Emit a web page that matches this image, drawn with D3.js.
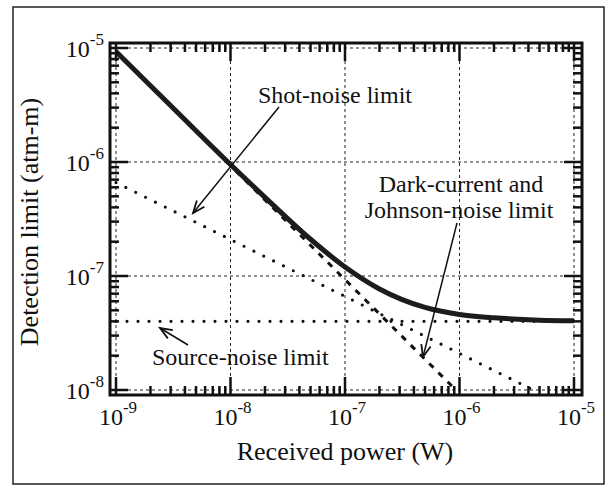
<!DOCTYPE html>
<html><head><meta charset="utf-8">
<script src="https://cdn.jsdelivr.net/npm/d3@7"></script>
<style>body{margin:0;background:#fff}svg{display:block}text{font-family:"Liberation Serif","Times New Roman",serif;fill:#111}</style>
</head><body><svg id="c" width="610" height="495"></svg>
<script>
// ---- data ----
const xTickValues = [1e-9, 1e-8, 1e-7, 1e-6, 1e-5];
const xTickExps = ["-9", "-8", "-7", "-6", "-5"];
const yTickValues = [1e-8, 1e-7, 1e-6, 1e-5];
const yTickExps = ["-8", "-7", "-6", "-5"];
const power = [1e-9, 2e-9, 5e-9, 1e-8, 2e-8, 5e-8, 1e-7, 2e-7, 5e-7, 1e-6, 2e-6, 5e-6, 1e-5];
const totalLimit = [9.3e-6, 4.67e-6, 1.88e-6, 9.5e-7, 4.9e-7, 2.1e-7, 1.2e-7, 7.7e-8, 5.3e-8, 4.6e-8, 4.3e-8, 4.1e-8, 4.05e-8];
const shotPower = [1e-9, 4.4e-6];
const shotLimit = [6.6e-7, 1e-8];
const darkPower = [1e-9, 9.3e-7];
const darkLimit = [9.3e-6, 1e-8];
const sourcePower = [1e-9, 1e-5];
const sourceLimit = [4e-8, 4e-8];
const xTitle = "Received power (W)";
const yTitle = "Detection limit (atm-m)";

const svg = d3.select("#c");
const x = d3.scaleLog().domain([1e-9, 1e-5]).range([116, 574]);
const y = d3.scaleLog().domain([1e-8, 1e-5]).range([390, 48]);
const box = {l: 110, t: 43, r: 582, b: 395};

// outer border
svg.append("rect").attr("x", 13).attr("y", 7).attr("width", 591).attr("height", 477)
  .attr("fill", "none").attr("stroke", "#222").attr("stroke-width", 1.5);

// grid
const g = svg.append("g");
g.selectAll(".gx").data(xTickValues).join("line")
  .attr("x1", d => x(d)).attr("x2", d => x(d)).attr("y1", box.t).attr("y2", box.b)
  .attr("stroke", "#222").attr("stroke-width", 1).attr("stroke-dasharray", "3,3");
g.selectAll(".gy").data(yTickValues).join("line")
  .attr("y1", d => y(d)).attr("y2", d => y(d)).attr("x1", box.l).attr("x2", box.r)
  .attr("stroke", "#222").attr("stroke-width", 1).attr("stroke-dasharray", "3,3");

svg.append("clipPath").attr("id", "clip").append("rect")
  .attr("x", box.l).attr("y", box.t).attr("width", box.r - box.l).attr("height", box.b - box.t);

const line = d3.line().x(d => x(d[0])).y(d => y(d[1]));
const plot = svg.append("g").attr("clip-path", "url(#clip)");

plot.append("path").datum(d3.zip(sourcePower, sourceLimit)).attr("d", line)
  .attr("fill", "none").attr("stroke", "#111").attr("stroke-width", 3.2)
  .attr("stroke-linecap", "round").attr("stroke-dasharray", "0,11");
plot.append("path").datum(d3.zip(shotPower, shotLimit)).attr("d", line)
  .attr("fill", "none").attr("stroke", "#111").attr("stroke-width", 3.2)
  .attr("stroke-linecap", "round").attr("stroke-dasharray", "0,11");
plot.append("path").datum(d3.zip(darkPower, darkLimit)).attr("d", line)
  .attr("fill", "none").attr("stroke", "#111").attr("stroke-width", 3)
  .attr("stroke-dasharray", "6,7");
plot.append("path").datum(d3.zip(power, totalLimit))
  .attr("d", line.curve(d3.curveMonotoneX))
  .attr("fill", "none").attr("stroke", "#1c1c1c").attr("stroke-width", 5);

// frame
svg.append("rect").attr("x", box.l).attr("y", box.t).attr("width", box.r - box.l).attr("height", box.b - box.t)
  .attr("fill", "none").attr("stroke", "#111").attr("stroke-width", 3);

// ticks (all four sides, inward)
const minorX = [], minorY = [];
xTickValues.slice(0, -1).forEach(d => { for (let k = 2; k <= 9; k++) minorX.push(d * k); });
yTickValues.slice(0, -1).forEach(d => { for (let k = 2; k <= 9; k++) minorY.push(d * k); });
const tk = svg.append("g").attr("stroke", "#111").attr("stroke-width", 2.5);
function xt(vals, len) {
  vals.forEach(v => {
    tk.append("line").attr("x1", x(v)).attr("x2", x(v)).attr("y1", box.b).attr("y2", box.b - len);
    tk.append("line").attr("x1", x(v)).attr("x2", x(v)).attr("y1", box.t).attr("y2", box.t + len);
  });
}
function yt(vals, len) {
  vals.forEach(v => {
    tk.append("line").attr("y1", y(v)).attr("y2", y(v)).attr("x1", box.l).attr("x2", box.l + len);
    tk.append("line").attr("y1", y(v)).attr("y2", y(v)).attr("x1", box.r).attr("x2", box.r - len);
  });
}
xt(xTickValues, 18); xt(minorX, 9);
yt(yTickValues, 18); yt(minorY, 9);

// tick labels
xTickValues.forEach((v, i) => {
  const t = svg.append("text").attr("x", x(v) + 2).attr("y", 425).attr("text-anchor", "middle").style("font-size", "24px");
  t.append("tspan").text("10");
  t.append("tspan").attr("dy", -12).style("font-size", "17px").text(xTickExps[i]);
});
yTickValues.forEach((v, i) => {
  const t = svg.append("text").attr("x", 104).attr("y", y(v) + 9).attr("text-anchor", "end").style("font-size", "24px");
  t.append("tspan").text("10");
  t.append("tspan").attr("dy", -12).style("font-size", "17px").text(yTickExps[i]);
});

// axis titles
svg.append("text").attr("x", 345).attr("y", 460).attr("text-anchor", "middle").style("font-size", "26px").text(xTitle);
svg.append("text").attr("transform", "translate(38,222) rotate(-90)").attr("text-anchor", "middle").style("font-size", "26px").text(yTitle);

// annotations
const ann = svg.append("g");
ann.append("text").attr("x", 258).attr("y", 103).style("font-size", "24px").text("Shot-noise limit");
ann.append("text").attr("x", 461).attr("y", 192).attr("text-anchor", "middle").style("font-size", "24px").text("Dark-current and");
ann.append("text").attr("x", 459).attr("y", 218).attr("text-anchor", "middle").style("font-size", "24px").text("Johnson-noise limit");
ann.append("text").attr("x", 152).attr("y", 365).style("font-size", "24px").text("Source-noise limit");

function arrow(x1, y1, x2, y2) {
  const a = Math.atan2(y2 - y1, x2 - x1), L = 13, s = 0.38;
  ann.append("line").attr("x1", x1).attr("y1", y1).attr("x2", x2).attr("y2", y2)
    .attr("stroke", "#111").attr("stroke-width", 1.5);
  ann.append("path").attr("d", d3.line()([
    [x2 - L * Math.cos(a - s), y2 - L * Math.sin(a - s)], [x2, y2],
    [x2 - L * Math.cos(a + s), y2 - L * Math.sin(a + s)]]))
    .attr("fill", "none").attr("stroke", "#111").attr("stroke-width", 1.8);
}
arrow(279, 107, 193, 213);
arrow(457, 223, 423, 357);
arrow(188, 345, 160, 328);
</script></body></html>
